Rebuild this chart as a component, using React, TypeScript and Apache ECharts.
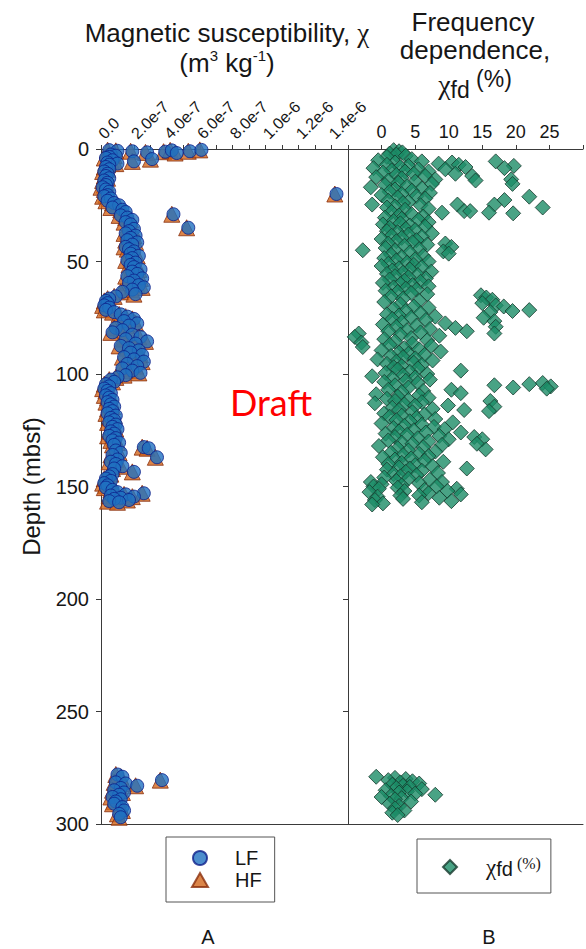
import React, { useEffect, useRef } from "react";
import * as echarts from "echarts";

// ---------- Panel A: magnetic susceptibility (values in units of 1e-7 m3 kg-1) ----------
const depthA = [
  0.5, 0.8, 1.0, 1.5, 1.2, 0.6, 1.8, 1.0, 0.4, 5.5, 4.5,
  2.5, 3.0, 3.5, 4.0, 5.0, 6.0, 6.5, 7.0, 8.0, 9.0, 10.0, 11.0, 12.0, 13.0, 14.0, 15.0, 16.0, 17.0, 18.0, 19.0,
  20.0,
  20.5, 21.0, 22.0, 23.0, 24.0, 25.0, 26.0, 27.0, 28.0,
  29.0,
  29.5, 30.5, 31.5, 32.5, 33.5,
  35.0,
  35.5, 36.5, 37.5, 38.5, 39.5, 40.5, 41.5, 42.5, 43.5, 44.5, 45.5, 46.5, 47.5, 48.5, 49.5,
  50.5, 51.5, 52.5, 53.5, 54.5, 55.5, 56.5, 57.5, 58.5, 59.5, 60.5, 61.5, 62.5, 63.5, 64.5,
  65.5, 66.5, 67.5, 68.5, 69.5, 70.5, 71.5, 72.5, 73.5, 74.5,
  75.5, 76.5, 77.5, 78.5, 79.5, 80.5, 81.5, 82.5, 83.5, 84.5,
  85.5, 86.5, 87.5, 88.5, 89.5, 90.5, 91.5, 92.5, 93.5, 94.5,
  95.5, 96.5, 97.5, 98.5, 99.5, 100.5, 101.5, 102.5, 103.5, 104.5,
  105.5, 106.5, 107.5, 108.5, 109.5, 110.5, 111.5, 112.5, 113.5, 114.5,
  115.5, 116.5, 117.5, 118.5, 119.5, 120.5, 121.5, 122.5, 123.5, 124.5,
  125.5, 126.5, 127.5, 128.5, 129.5, 130.5, 131.5,
  132.5, 133.0, 134.0, 135.0, 136.0, 137.0, 138.0, 139.0, 140.0, 141.0,
  142.0, 143.5, 144.5, 145.5, 146.5, 147.5, 148.5, 149.5, 150.5, 151.5,
  152.5, 153.0, 153.5, 154.0, 154.5, 155.0, 155.5, 156.0, 156.5, 157.0,
  278, 279, 280.5, 281.5, 282, 283, 284, 285, 286, 287, 288, 289, 290, 291, 292.5, 294, 295.5, 297,
];

const lfA = [
  0.5, 1.0, 1.9, 2.8, 3.9, 4.3, 4.6, 5.4, 6.1, 2.0, 3.1,
  0.6, 0.9, 0.5, 0.3, 0.7, 0.4, 1.0, 0.5, 0.3, 0.5, 0.2, 0.4, 0.3, 0.5, 0.2, 0.4, 0.3, 0.1, 0.3, 0.5,
  14.3,
  0.4, 0.2, 0.6, 0.4, 0.8, 1.1, 0.7, 1.3, 1.5,
  4.4,
  1.2, 1.6, 1.9, 1.5, 1.8,
  5.3,
  2.0, 1.7, 1.5, 2.1, 1.8, 1.6, 2.2, 1.9, 1.5, 1.7, 2.0, 1.8, 2.3, 1.9, 1.6,
  2.1, 1.8, 2.0, 2.4, 1.9, 2.2, 1.6, 2.5, 2.0, 1.7, 2.3, 2.6, 1.9, 1.3, 2.1,
  0.9, 0.5, 0.3, 0.4, 0.2, 0.5, 0.3, 0.8, 1.2, 1.6,
  2.0, 1.4, 2.2, 1.7, 0.9, 1.3, 0.7, 1.9, 2.4, 1.5,
  2.8, 2.1, 1.2, 1.7, 2.3, 1.8, 2.5, 1.4, 2.0, 2.6,
  1.6, 2.2, 1.3, 1.9, 2.4, 1.5, 1.0, 0.6, 0.8, 0.3,
  0.5, 0.2, 0.4, 0.6, 0.3, 0.5, 0.7, 0.4, 0.6, 0.8,
  0.5, 0.7, 0.4, 0.9, 0.6, 0.8, 0.5, 0.9, 0.7, 1.0,
  0.6, 0.8, 0.5, 0.9, 0.7, 1.1, 0.8,
  2.6, 2.9, 0.9, 1.2, 0.7, 3.4, 1.0, 0.6, 0.9, 1.3,
  0.8, 2.0, 0.7, 0.5, 0.3, 0.6, 0.2, 0.4, 0.3, 0.7,
  1.0, 2.6, 1.5, 0.6, 2.0, 1.2, 0.8, 1.7, 0.5, 1.1,
  1.0, 1.3, 3.7, 0.9, 1.5, 2.2, 1.2, 0.8, 1.4, 1.1, 0.7, 1.2, 0.9, 0.8, 1.3, 1.4, 1.1, 1.2,
];

const hfA = [
  0.4, 0.9, 1.8, 2.7, 3.8, 4.2, 4.5, 5.3, 6.0, 1.9, 3.0,
  0.5, 0.8, 0.4, 0.2, 0.6, 0.3, 0.9, 0.4, 0.2, 0.4, 0.1, 0.3, 0.2, 0.4, 0.1, 0.3, 0.2, 0.0, 0.2, 0.4,
  14.2,
  0.3, 0.1, 0.5, 0.3, 0.7, 1.0, 0.6, 1.2, 1.4,
  4.3,
  1.1, 1.5, 1.8, 1.4, 1.7,
  5.2,
  1.9, 1.6, 1.4, 2.0, 1.7, 1.5, 2.1, 1.8, 1.4, 1.6, 1.9, 1.7, 2.2, 1.8, 1.5,
  2.0, 1.7, 1.9, 2.3, 1.8, 2.1, 1.5, 2.4, 1.9, 1.6, 2.2, 2.5, 1.8, 1.2, 2.0,
  0.8, 0.4, 0.2, 0.3, 0.1, 0.4, 0.2, 0.7, 1.1, 1.5,
  1.9, 1.3, 2.1, 1.6, 0.8, 1.2, 0.6, 1.8, 2.3, 1.4,
  2.7, 2.0, 1.1, 1.6, 2.2, 1.7, 2.4, 1.3, 1.9, 2.5,
  1.5, 2.1, 1.2, 1.8, 2.3, 1.4, 0.9, 0.5, 0.7, 0.2,
  0.4, 0.1, 0.3, 0.5, 0.2, 0.4, 0.6, 0.3, 0.5, 0.7,
  0.4, 0.6, 0.3, 0.8, 0.5, 0.7, 0.4, 0.8, 0.6, 0.9,
  0.5, 0.7, 0.4, 0.8, 0.6, 1.0, 0.7,
  2.5, 2.8, 0.8, 1.1, 0.6, 3.3, 0.9, 0.5, 0.8, 1.2,
  0.7, 1.9, 0.6, 0.4, 0.2, 0.5, 0.1, 0.3, 0.2, 0.6,
  0.9, 2.5, 1.4, 0.5, 1.9, 1.1, 0.7, 1.6, 0.4, 1.0,
  0.9, 1.2, 3.6, 0.8, 1.4, 2.1, 1.1, 0.7, 1.3, 1.0, 0.6, 1.1, 0.8, 0.7, 1.2, 1.3, 1.0, 1.1,
];

// ---------- Panel B: frequency dependence, [depth (mbsf), chi_fd (%)] ----------
const fdSamples: [number, number][] = [
  [0.5, 1.8], [1.0, 2.6], [1.5, 3.1], [2.0, 1.2], [2.5, 2.2], [3.0, 3.6], [3.5, 0.8],
  [4.5, 4.5], [5.0, -0.5], [5.5, 17.0], [5.5, 6.0], [6.0, 2.0], [6.0, 10.5], [6.5, 8.5], [7.0, 0.8],
  [7.0, 11.5], [7.5, 19.7], [7.5, 4.0], [8.0, 2.8], [8.0, 12.5], [8.5, 18.3], [8.5, -1.2], [9.0, 5.5],
  [9.0, 9.5], [9.5, 1.5], [10.0, 3.5], [10.0, 7.0], [10.5, 0.2], [11.0, 11.0], [11.0, 4.8], [11.5, 2.2],
  [12.0, 6.5], [12.0, 13.5], [12.5, -0.8], [13.0, 3.0], [13.5, 19.3], [13.5, 8.0], [14.0, 1.0],
  [14.0, 14.0], [14.5, 5.0], [15.0, 2.5], [15.5, 19.5], [15.5, 7.5],
  [16, 0.5], [16.5, 3.8], [17, -1.6], [17.5, 6.0], [18, 2.0], [18.5, 4.5], [19, 1.2], [19.5, 7.2],
  [20, 3.0], [20.5, 0.0], [21, 5.2], [21.2, 22.0], [21.5, 2.4], [22, 6.5], [22.7, 18.3], [23, 1.0],
  [23.5, 4.0], [24, 3.2], [24.7, 11.3], [24.7, 16.8], [24.7, -1.4], [25, 5.8], [25.5, 2.0], [26, 24.0],
  [26, 0.8], [26.5, 7.0], [27, 3.5], [27.6, 12.3], [27.6, 13.2], [28, 1.5], [28.3, 9.0], [28.3, 16.0],
  [28.6, 19.6], [29, 4.5], [29.5, 2.6], [30, 6.2],
  [30.5, 0.5], [31, 3.0], [31.5, 5.5], [32, 1.8], [32.5, 7.0], [33, 2.8], [33.5, 0.2], [34, 4.2],
  [34.5, 6.5], [35, 1.2], [35.5, 3.6], [36, 5.0], [36.5, 0.8], [37, 2.4], [37.5, 7.5], [38, 4.0],
  [38.5, 1.5], [39, 6.0], [39.5, 3.0], [40, 0.0], [40.5, 5.2], [41, 2.2], [41.5, 4.6], [42, 9.5],
  [42, 1.0], [42.5, 6.8], [43, 3.4], [43.5, 10.4], [44, 0.6], [44.5, 5.6], [45, -2.8], [45, 2.0],
  [45.5, 9.2], [46, 4.2], [46.5, 10.0], [47, 1.4],
  [47.5, 6.2], [48, 3.0], [48.5, 0.4], [49, 5.0], [49.5, 2.2], [50, 7.0], [50.5, 3.8], [51, 1.0],
  [51.5, 4.8], [52, 0.0], [52.5, 6.0], [53, 2.6], [53.5, 4.2], [54, 1.6], [54.5, 7.4], [55, 3.2],
  [55.5, 0.8], [56, 5.4], [56.5, 2.0], [57, 4.0], [57.5, 6.6], [58, 1.2], [58.5, 3.4], [59, 5.8],
  [59.5, 0.2], [60, 2.8], [60.5, 4.6], [61, 7.0], [61.5, 1.8], [62, 3.6], [62.5, 5.2], [63, 0.6],
  [63.5, 2.4],
  [64, 4.4], [64.5, 6.8], [65, 14.8], [65.5, 1.4], [66, 15.6], [66.5, 3.2], [67, 16.5], [67.5, 5.6],
  [68, 0.4], [68.5, 15.0], [69, 2.8], [69.5, 17.0], [70, 4.8], [70, 18.2], [70.5, 7.0], [71, 1.8],
  [71.6, 22.0], [72, 19.5], [72, 3.6], [72.5, 16.2], [73, 5.8],
  [73.5, 0.8], [74, 2.6], [74.5, 8.0], [75, 15.2], [75, 4.4], [75.5, 1.6], [76, 6.6], [76.5, 16.8],
  [77, 3.0], [77.5, 9.5], [78, 0.2], [78.5, 5.2], [79, 17.0], [79, 2.2], [79.5, 11.0], [80, 7.2],
  [80.5, 3.8], [81, 12.7], [81, 1.0], [81.5, 5.8], [82, 16.8], [82, -3.4], [82.5, 2.8], [83, 8.6],
  [83.5, -4.0], [84, 4.4], [84.5, 0.4], [85, 6.8],
  [85.5, 2.0], [86, -3.0], [86.5, 4.6], [87, 1.2], [87.5, 7.4], [88, -2.8], [88.5, 3.4], [89, 5.6],
  [89.5, 0.0], [90, 8.8], [90.5, 2.6], [91, 4.0], [91.5, 6.4], [92, 1.4], [92.5, 3.2], [93, 5.0],
  [93.5, -0.6], [94, 7.6], [94.5, 2.2], [95, 4.8], [95.5, 0.8], [96, 6.0], [96.5, 3.0], [97, 1.8],
  [97.5, 5.4],
  [98, 2.4], [98.5, 11.8], [99, 4.2], [99.5, 0.6], [100, 6.8], [100.5, 3.2], [101, -1.4], [101.5, 5.0],
  [102, 1.6], [102.5, 7.2], [103, 3.6], [103.5, 0.4], [104, 24.0], [104, 5.4], [104.5, 22.0],
  [105, 16.8], [105, 2.0], [105.5, 25.2], [106, 19.6], [106, 4.0], [106.5, 24.6], [107, 10.4],
  [107, 1.0], [107.5, 6.2], [108, 3.0], [108.5, 11.8], [109, -0.8], [109.5, 5.6], [110, 2.4],
  [110.5, 7.0], [111, 0.8], [111.5, 4.0], [112, 16.2], [112, 2.0], [112.5, 6.0], [113, -1.0],
  [113.5, 3.4], [114, 9.9], [114, 5.0], [114.5, 16.8], [115, 1.6], [115.5, 7.6], [116, 12.3],
  [116, 2.6], [116.5, 16.0], [117, 4.6], [117.5, 0.4], [118, 6.4], [118.5, 3.0],
  [119, 1.2], [119.5, 5.2], [120, 8.0], [120.5, 2.2], [121, 4.2], [121.5, 10.6], [122, 0.0],
  [122.5, 6.0], [123, 3.4], [123.5, 7.8], [124, 1.8], [124.5, 9.4], [125, 4.8], [125.5, 2.6],
  [126, 11.8], [126, 6.6], [126.5, 0.6], [127, 3.8], [127.5, 8.6], [128, 13.8], [128, 2.0],
  [128.5, 5.4], [129, 15.0], [129, 10.0], [129.5, 1.0], [130, 7.0], [130.5, 3.0], [131, 14.2],
  [131, 4.6], [131.5, 9.0], [132, -0.4], [132.5, 6.2], [133, 2.4], [133.5, 15.5], [134, 4.0],
  [134.5, 8.0], [135, 1.4], [135.5, 5.6], [136, 3.2], [136.5, 7.0], [137, 0.2], [137.5, 4.4],
  [138, 2.0], [138.5, 6.4], [139, 9.2], [139.5, 3.0], [140, 1.0], [140.5, 5.0], [141, 7.6],
  [141.5, 2.6], [142, 12.7], [142, 4.2], [142.5, 0.8], [143, 6.0], [143.5, 3.6], [144, 8.4],
  [144.5, 1.8], [145, 5.2], [145.5, 2.8],
  [146, 0.4], [146.5, 4.0], [147, 7.2], [147.5, 2.2], [148, -1.6], [148, 9.0], [148.5, 5.6],
  [149, 0.0], [149.5, 3.0], [150, -1.2], [150, 8.2], [150.5, 2.4], [151, 11.2], [151, -0.4],
  [151.5, 6.4], [152, 3.4], [152, 9.8], [152.5, -1.8], [153, 7.0], [153.5, 11.8], [154, 2.8],
  [154, 5.6], [154.5, -0.6], [155, 8.6], [155.5, 3.2], [156, -1.0], [156.5, 10.4], [157, 6.0],
  [157.5, 0.2], [158, -1.4],
  [279, -0.8], [279.5, 2.0], [280, 3.6], [280.5, 1.0], [281, 4.6], [281.5, 2.8], [282, 5.6],
  [282.5, 1.6], [283, 3.2], [283.5, 4.2], [284, 2.2], [284.5, 6.0], [285, 0.6], [285.5, 3.8],
  [286, 2.6], [286.5, 5.0], [287, 8.0], [287.5, 1.4], [288, 0.0], [288.5, 3.0], [289, 2.0],
  [290, 4.4], [291, 1.2], [292, 2.6], [293, 2.0], [294, 3.4], [295, 1.6], [296, 2.4],
];

// ---------- Tick labels ----------
const chiTickLabels: Record<number, string> = {
  0: "0.0", 2: "2.0e-7", 4: "4.0e-7", 6: "6.0e-7", 8: "8.0e-7", 10: "1.0e-6", 12: "1.2e-6", 14: "1.4e-6",
};
const fdTickLabels = [0, 5, 10, 15, 20, 25];

const FONT = "'Liberation Sans', Arial, Helvetica, sans-serif";
const CHI_FONT = "'Liberation Serif', 'DejaVu Serif', serif";
const AXIS_COLOR = "#3a3a3a";
const TEXT_COLOR = "#161616";

export default function App() {
  const ref = useRef<HTMLDivElement>(null);

  useEffect(() => {
    if (!ref.current) return;
    const chart = echarts.init(ref.current, undefined, { renderer: "svg" });

    const lfData = depthA.map((d, i) => [lfA[i], d]);
    const hfData = depthA.map((d, i) => [hfA[i], d]);
    const fdData = fdSamples.map(([d, v]) => [v, d]);

    const lineStyle = { color: AXIS_COLOR, width: 1 };
    const center = { align: "center", verticalAlign: "middle", textAlign: "center", textVerticalAlign: "middle" };

    const option: any = {
      animation: false,
      backgroundColor: "#ffffff",
      textStyle: { fontFamily: FONT },
      grid: [
        { left: 101, top: 149, width: 247, height: 675 },
        { left: 348, top: 149, width: 248.5, height: 675 },
      ],
      xAxis: [
        {
          gridIndex: 0, type: "value", position: "top", min: 0, max: 15, interval: 1,
          axisLine: { show: true, onZero: false, lineStyle },
          axisTick: { show: true, length: 4, lineStyle },
          axisLabel: {
            rotate: -45, margin: 13, fontSize: 16, color: TEXT_COLOR, fontFamily: FONT,
            align: "left", verticalAlign: "middle",
            formatter: (v: number) => chiTickLabels[Math.round(v)] ?? "",
          },
          splitLine: { show: false },
        },
        {
          gridIndex: 1, type: "value", position: "top", min: -5, max: 30, interval: 5,
          axisLine: { show: true, onZero: false, lineStyle },
          axisTick: { show: true, length: 4, lineStyle },
          axisLabel: {
            margin: 8, fontSize: 18, color: TEXT_COLOR, fontFamily: FONT,
            formatter: (v: number) => (fdTickLabels.includes(v) ? String(v) : ""),
          },
          splitLine: { show: false },
        },
        {
          gridIndex: 0, type: "value", position: "bottom", min: 0, max: 15,
          axisLine: { show: true, onZero: false, lineStyle }, axisTick: { show: false }, axisLabel: { show: false },
          splitLine: { show: false },
        },
        {
          gridIndex: 1, type: "value", position: "bottom", min: -5, max: 30,
          axisLine: { show: true, onZero: false, lineStyle }, axisTick: { show: false }, axisLabel: { show: false },
          splitLine: { show: false },
        },
      ],
      yAxis: [
        {
          gridIndex: 0, type: "value", inverse: true, min: 0, max: 300, interval: 50,
          name: "Depth (mbsf)", nameLocation: "middle", nameGap: 58, nameRotate: 90,
          nameTextStyle: { fontSize: 24, color: TEXT_COLOR, fontFamily: FONT },
          axisLine: { show: true, onZero: false, lineStyle },
          axisTick: { show: true, length: 5, lineStyle },
          axisLabel: { fontSize: 20, margin: 12, color: TEXT_COLOR, fontFamily: FONT },
          splitLine: { show: false },
        },
        {
          gridIndex: 1, type: "value", inverse: true, min: 0, max: 300, interval: 50,
          axisLine: { show: true, onZero: false, lineStyle },
          axisTick: { show: true, length: 5, lineStyle },
          axisLabel: { show: false },
          splitLine: { show: false },
        },
      ],
      legend: [
        {
          data: ["LF", "HF"], orient: "vertical", left: 166, top: 837,
          itemWidth: 16, itemHeight: 14, itemGap: 2, padding: [11, 13, 12, 25],
          borderColor: "#555", borderWidth: 1, selectedMode: false,
          formatter: (name: string) => `{t|${name}}`,
          textStyle: {
            color: TEXT_COLOR, fontFamily: FONT,
            rich: { t: { fontSize: 20, lineHeight: 20, fontFamily: FONT, padding: [0, 0, 0, 22] } },
          },
        },
        {
          data: ["χfd (%)"], orient: "vertical", left: 417, top: 839,
          itemWidth: 14, itemHeight: 14, padding: [16, 10, 14, 25],
          borderColor: "#555", borderWidth: 1, selectedMode: false,
          formatter: () => "{c|χ}{f|fd}{p| (%)}",
          textStyle: {
            color: TEXT_COLOR, fontFamily: FONT,
            rich: {
              c: { fontSize: 23, fontFamily: CHI_FONT, lineHeight: 24, verticalAlign: "middle", padding: [0, 0, 0, 24] },
              f: { fontSize: 20, fontFamily: FONT, lineHeight: 24, verticalAlign: "bottom" },
              p: { fontSize: 16, fontFamily: CHI_FONT, lineHeight: 24, verticalAlign: "top" },
            },
          },
        },
      ],
      series: [
        {
          name: "HF", type: "scatter", xAxisIndex: 0, yAxisIndex: 0, data: hfData,
          symbol: "triangle", symbolSize: 16,
          itemStyle: { color: "#D2661C", borderColor: "#8A2E0C", borderWidth: 1 },
        },
        {
          name: "LF", type: "scatter", xAxisIndex: 0, yAxisIndex: 0, data: lfData,
          symbol: "circle", symbolSize: 13,
          itemStyle: { color: "#1F70C1", borderColor: "#0E1F8A", borderWidth: 1 },
        },
        {
          name: "χfd (%)", type: "scatter", xAxisIndex: 1, yAxisIndex: 1, data: fdData,
          symbol: "diamond", symbolSize: 15,
          itemStyle: { color: "#1C8C67", borderColor: "#17392D", borderWidth: 1 },
        },
      ],
      graphic: [
        {
          type: "text", x: 227, y: 33,
          style: {
            text: "{n|Magnetic susceptibility, }{c|χ}", fill: TEXT_COLOR, fontFamily: FONT, ...center,
            rich: {
              n: { fontSize: 26, fontFamily: FONT, lineHeight: 30, fill: TEXT_COLOR },
              c: { fontSize: 27, fontFamily: CHI_FONT, lineHeight: 30, fill: TEXT_COLOR },
            },
          },
        },
        {
          type: "text", x: 227, y: 63,
          style: {
            text: "{n|(m}{s|3}{n| kg}{s|-1}{n|)}", fill: TEXT_COLOR, fontFamily: FONT, ...center,
            rich: {
              n: { fontSize: 26, fontFamily: FONT, lineHeight: 30, verticalAlign: "middle", fill: TEXT_COLOR },
              s: { fontSize: 15, fontFamily: FONT, lineHeight: 30, verticalAlign: "top", fill: TEXT_COLOR },
            },
          },
        },
        {
          type: "text", x: 473, y: 22,
          style: { text: "Frequency", fill: TEXT_COLOR, fontSize: 26, fontFamily: FONT, ...center },
        },
        {
          type: "text", x: 475, y: 50,
          style: { text: "dependence,", fill: TEXT_COLOR, fontSize: 26, fontFamily: FONT, ...center },
        },
        {
          type: "text", x: 475, y: 84,
          style: {
            text: "{c|χ}{f|fd}{p| (%)}", fill: TEXT_COLOR, fontFamily: FONT, ...center,
            rich: {
              c: { fontSize: 28, fontFamily: CHI_FONT, lineHeight: 34, verticalAlign: "middle", fill: TEXT_COLOR },
              f: { fontSize: 23, fontFamily: FONT, lineHeight: 34, verticalAlign: "bottom", fill: TEXT_COLOR },
              p: { fontSize: 23, fontFamily: FONT, lineHeight: 34, verticalAlign: "top", fill: TEXT_COLOR },
            },
          },
        },
        {
          type: "text", x: 271, y: 402,
          style: {
            text: "Draft", fill: "#ff0000", fontSize: 36, fontFamily: "Lato, 'Open Sans', sans-serif", ...center,
          },
        },
        {
          type: "text", x: 208, y: 937,
          style: { text: "A", fill: TEXT_COLOR, fontSize: 20, fontFamily: FONT, ...center },
        },
        {
          type: "text", x: 489, y: 937,
          style: { text: "B", fill: TEXT_COLOR, fontSize: 20, fontFamily: FONT, ...center },
        },
      ],
    };

    chart.setOption(option);
    return () => chart.dispose();
  }, []);

  return (
    <div
      ref={ref}
      style={{ position: "absolute", left: 0, top: 0, width: 586, height: 949, background: "#fff" }}
    />
  );
}
